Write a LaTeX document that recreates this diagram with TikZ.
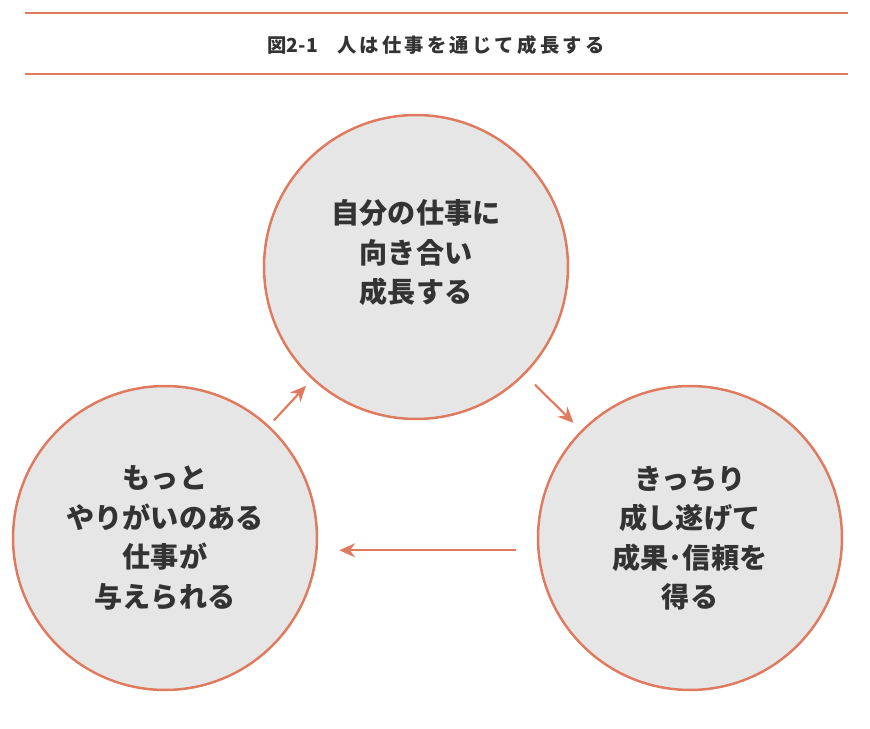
\documentclass[tikz,border=0pt]{standalone}
\usepackage{fontspec}
\setmainfont{Noto Sans CJK JP}
\usepackage{tikz}
\usetikzlibrary{arrows.meta, positioning}
\definecolor{rule}{HTML}{E07A5F}
\definecolor{disc}{HTML}{E6E6E6}
\definecolor{ink}{HTML}{333333}
\begin{document}
\begin{tikzpicture}[
    x=0.02cm, y=0.02cm,
    stage/.style={circle, draw=rule, line width=1.4pt, fill=disc, minimum size=6.08cm, align=center, text=ink, font=\fontsize{16}{22.5}\selectfont\bfseries},
    line/.style={draw=rule, line width=1.2pt, -{Stealth[length=9pt, width=8pt]}}
]
    \useasboundingbox (0,0) rectangle (870,728);
    % Title bar
    \draw[rule, line width=1.4pt] (25,715) -- (848,715);
    \draw[rule, line width=1.4pt] (25,654) -- (848,654);
    \node[text=ink, font=\fontsize{11}{13}\selectfont\bfseries] (title) at (436,683)
        {図2-1\hspace{1em}人\,は\,仕\,事\,を\,通\,じ\,て\,成\,長\,す\,る};

    % Nodes
    \node[stage] (grow) at (416,461) {};
    \node[text=ink, align=center, font=\fontsize{16}{22.5}\selectfont\bfseries, below=-42pt of grow.center] (growtext) {自分の仕事に\\向き合い\\成長する};
    \node[stage] (trust) at (690,190) {きっちり\\成し遂げて\\成果･信頼を\\得る};
    \node[stage] (more) at (165,190) {もっと\\やりがいのある\\仕事が\\与えられる};

    % Paths
    \path[line, shorten <=8pt, shorten >=6pt] (grow) -- (trust);
    \path[line, shorten <=12pt, shorten >=12pt] ([yshift=-7]trust.west) -- ([yshift=-7]more.east);
    \path[line, shorten <=4pt, shorten >=5pt] (more) -- (grow);
\end{tikzpicture}
\end{document}
